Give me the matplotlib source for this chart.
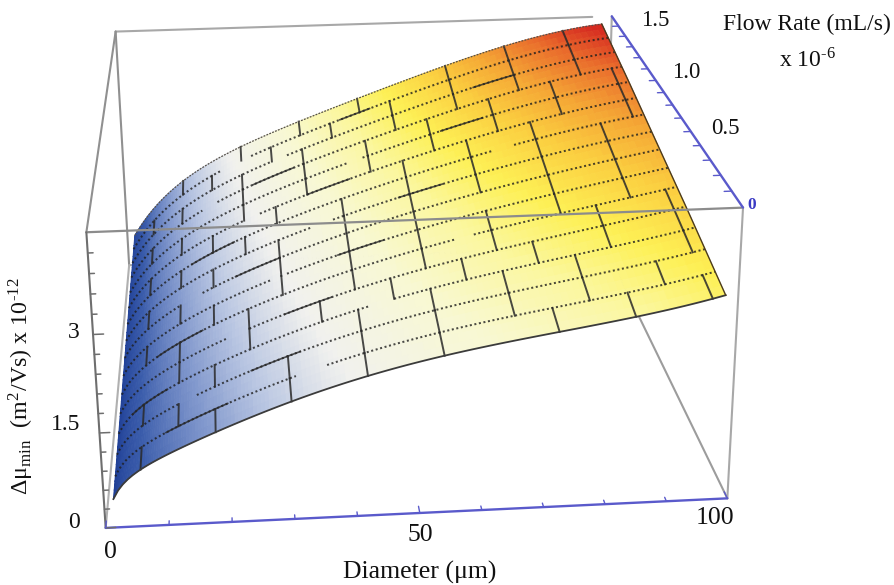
import numpy as np, matplotlib
matplotlib.use('Agg')
import matplotlib.pyplot as plt
from matplotlib.colors import LinearSegmentedColormap

W, H = 895, 585
plt.rcParams['font.family'] = ['Liberation Serif', 'DejaVu Sans']
plt.rcParams['mathtext.fontset'] = 'stix'

# ---- data ----
diameter = [1.5, 5, 10, 15, 20, 30, 40, 55, 70, 85, 98]
flow = [0, 0.375, 0.75, 1.125, 1.5]
dmu_f0 = [.45, .855, 1.08, 1.305, 1.53, 1.845, 2.16, 2.475, 2.70, 2.97, 3.195]
dmu_f1 = [.486, .904, 1.189, 1.439, 1.676, 2.022, 2.342, 2.694, 3.004, 3.286, 3.511]
dmu_f2 = [.52, .949, 1.291, 1.562, 1.811, 2.186, 2.511, 2.896, 3.285, 3.578, 3.803]
dmu_f3 = [.554, .994, 1.392, 1.686, 1.946, 2.349, 2.680, 3.099, 3.566, 3.871, 4.096]
dmu_f4 = [.585, 1.035, 1.485, 1.80, 2.07, 2.50, 2.835, 3.285, 3.825, 4.14, 4.365]
mesh_flow = [.1, .2, .3, .4, .5, .6, .7, .8, .9, 1.0, 1.1, 1.2, 1.3, 1.4]
mesh_diam = [6, 12, 18, 24, 30, 36, 42, 48, 54, 60, 66, 72, 78, 84, 90, 96]
cross_rows = ['1.1.1.1.1..1.1.1', '.1..1.1.1.1.1.1.', '1.1...1.1.1.1..1', '.1.1.1.1.1.1.1.1',
              '.1.1..1.1.1..1.1', '1.1.1.1.1.1.1.1.', '.1..1.1.1...1.1.', '1.1.1.1.1.1.1.1.',
              '.1.1..1.1.1.1.1.', '1.1.1...1.1.1..1', '.1.1.1.1.1.1.1.1', '1..1.1.1.1.1.1.1',
              '.1.1.1..1.1.1.1.', '1.1.1.1.1.1.1.1.', '.1.1.1.1..1.1.1.']
dense_runs = [(.1, 10, 20), (.2, 24, 32), (.3, 4, 10), (.4, 30, 38), (.5, 8, 16), (.6, 40, 48), (.7, 22, 30),
              (.8, 52, 60), (.9, 14, 22), (1.0, 36, 44), (1.1, 62, 70), (1.2, 26, 34), (1.3, 70, 78), (1.4, 44, 50)]
gap_runs = [(.1, 31, 36), (.2, 12, 15), (.3, 44, 48), (.4, 20, 24), (.5, 60, 63), (.6, 28, 31), (.7, 12, 16),
            (.8, 36, 40), (.9, 70, 74), (1.0, 24, 27), (1.1, 44, 47), (1.2, 16, 19), (1.3, 30, 33), (1.4, 20, 26)]
dmu_ticks = [0, .3, .6, .9, 1.2, 1.5, 1.8, 2.1, 2.4, 2.7, 3.0, 3.3, 3.6, 3.9, 4.2]
diam_ticks = [0, 10, 20, 30, 40, 50, 60, 70, 80, 90, 100]
flow_ticks = [.1, .2, .3, .4, .5, .6, .7, .8, .9, 1.0, 1.1, 1.2, 1.3, 1.4]

table = np.array([dmu_f0, dmu_f1, dmu_f2, dmu_f3, dmu_f4])
dg, fg = np.array(diameter, float), np.array(flow, float)
ZMAX = 4.5
coef = np.array([np.polyfit(np.sqrt(dg), row, 5) for row in table])


def height(d, f):
    """Read the table, smoothed along the diameter, between the flow rows."""
    d, f = np.broadcast_arrays(np.asarray(d, float), np.asarray(f, float))
    cols = np.array([np.polyval(c, np.sqrt(d)) for c in coef])
    out = np.zeros(d.shape)
    for idx in np.ndindex(d.shape):
        out[idx] = np.interp(f[idx], fg, cols[(slice(None),) + idx])
    return out


cmap = LinearSegmentedColormap.from_list('t', [
    (0, '#1f3f96'), (.1, '#1f3f96'), (.2, '#3a5cab'), (.3, '#7f96cc'), (.38, '#b9c6e2'), (.47, '#f1f1ee'),
    (.57, '#f8f8d4'), (.65, '#fbf7a0'), (.72, '#fdf055'), (.79, '#fbcf40'), (.85, '#f5a835'), (.91, '#ea6f2c'),
    (.96, '#d62a20'), (1, '#d62a20')])

fig = plt.figure(figsize=(W / 100, H / 100), dpi=100)
s, cx, cy = 4613.86, 389.76, 240.75
L = s * .185
left, bottom_px = cx - .095 * s, cy + .095 * s
ax = fig.add_axes([left / W, (H - bottom_px) / H, L / W, L / H], projection='3d', computed_zorder=False)
ax.set_xlim(0, 100); ax.set_ylim(0, 1.5); ax.set_zlim(0, ZMAX)
ax.view_init(21.1349, -94.4515, 0.5789)
ax.set_proj_type('persp', focal_length=0.4598)
ax.set_box_aspect((1.9938, 2.2472, 1))
ax.set_axis_off()
ax.patch.set_alpha(0)

GRAY = '#9c9c9c'; BLUE = '#5a5acb'; DARK = '#6e6e6e'


def edge(p, q, c=GRAY, lw=1.5, z=1):
    ax.plot([p[0], q[0]], [p[1], q[1]], [p[2], q[2]], color=c, lw=lw, zorder=z, solid_capstyle='round')


# back edges (under the surface)
edge((0, 1.5, ZMAX), (96, 1.5, ZMAX), '#a8a8a8')
edge((0, 1.5, ZMAX), (0, 1.5, 0), '#909090')
edge((0, 1.5, 0), (100, 1.5, 0), '#a8a8a8')
edge((100, 1.5, ZMAX), (100, 1.5, 0), '#a8a8a8')
edge((0, 0, 0), (0, 1.5, 0), '#b0b0b0')
edge((100, 0, 0), (100, 1.5, 0))
edge((0, 0, ZMAX), (0, 1.5, ZMAX), '#909090')

# surface
Dv = np.linspace(np.sqrt(diameter[0]), np.sqrt(diameter[-1]), 140) ** 2
Fv = np.linspace(flow[0], flow[-1], 40)
DD, FF = np.meshgrid(Dv, Fv)
ZZ = height(DD, FF)
surf = ax.plot_surface(DD, FF, ZZ, facecolors=cmap(ZZ / ZMAX), rstride=1, cstride=1, shade=False,
                       linewidth=0, antialiased=True, zorder=2)
surf.set_edgecolor(cmap(ZZ[:-1, :-1] / ZMAX).reshape(-1, 4))
surf.set_linewidth(.6)

# mesh
for fv in mesh_flow:
    cuts = [(a, b) for g, a, b in gap_runs if g == fv]
    ranges = [(diameter[0], cuts[0][0]), (cuts[0][1], diameter[-1])]
    for a, b in ranges:
        d = np.linspace(a, b, 50)
        ax.plot(d, np.full_like(d, fv), height(d, fv), color='#1e1e1e', lw=1.45, ls=(0, (1.0, 1.3)), alpha=.8, zorder=3)
for fv, a, b in dense_runs:
    d = np.linspace(a, b, 12)
    ax.plot(d, np.full_like(d, fv), height(d, fv), color='#262626', lw=1.2, alpha=.8, zorder=3)
edges_f = [0] + mesh_flow + [1.5]
for i, row in enumerate(cross_rows):
    for j, ch in enumerate(row):
        if ch == '1':
            f = np.linspace(edges_f[i], edges_f[i + 1], 6)
            dj = np.full_like(f, mesh_diam[j])
            ax.plot(dj, f, height(dj, f), color='#2a2a2a', lw=1.4, alpha=.85, zorder=3)
# surface outline
d = np.linspace(diameter[0], diameter[-1], 120)
ax.plot(d, np.zeros_like(d), height(d, 0.0), color='#3b3b3b', lw=1.3, zorder=3)
ax.plot(d, np.full_like(d, 1.5), height(d, 1.5), color='#55504a', lw=.9, ls=(0, (1.5, 1)), zorder=3)
f = np.linspace(0, 1.5, 30)
ax.plot(np.full_like(f, diameter[-1]), f, height(np.full_like(f, diameter[-1]), f), color='#4a3a20', lw=1.0, zorder=3)

# front box edges
edge((0, 0, ZMAX), (100, 0, ZMAX), '#8c8c8c', 1.6, 4)
edge((100, 0, 0), (100, 0, ZMAX), '#a8a8a8', 1.5, 4)
edge((0, 0, 0), (0, 0, ZMAX), DARK, 1.5, 4)
edge((0, 0, 0), (100, 0, 0), BLUE, 1.7, 4)
edge((100, 0, ZMAX), (100, 1.5, ZMAX), BLUE, 1.7, 4)

for t in dmu_ticks:
    ln = 1.6 if t in (0, 1.5, 3.0) else .8
    edge((0, 0, t), (ln, 0, t), DARK, 1.1, 4)
for t in diam_ticks:
    edge((t, 0, 0), (t, .03 if t % 50 == 0 else .018, 0), BLUE, 1.0, 4)
for t in flow_ticks:
    edge((100, t, ZMAX), (98.8, t, ZMAX), BLUE, 1.0, 4)


def label(x, y, text, size=16.5, ha='center', **kw):
    fig.text(x / W, 1 - y / H, text, fontsize=size, ha=ha, va='center', color=kw.pop('color', '#111111'), **kw)


label(655, 21, '1.5'); label(686, 73, '1.0'); label(725, 128, '0.5')
label(752, 205, '0', size=12.5, color='#3b3bc4', fontweight='bold')
label(807, 24, 'Flow Rate (mL/s)', size=17)
label(807, 60, 'x 10$^{\\mathregular{\u2010 6}}$', size=17)
label(80, 332, '3', ha='right', size=17); label(80, 425, '1.5', ha='right', size=17); label(80, 522, '0', ha='right', size=17)
label(110, 552, '0', size=18.5); label(420, 535, '50', size=18.5); label(715, 518, '100', size=18.5)
label(420, 572, 'Diameter (μm)', size=18.5)
label(21, 386, 'Δμ$_{\\mathregular{min}}$  (m$^{\\mathregular{2}}$/Vs) x 10$^{\\mathregular{\u2010 12}}$', size=17.3, rotation=90)

fig.savefig('out.png', dpi=100)
